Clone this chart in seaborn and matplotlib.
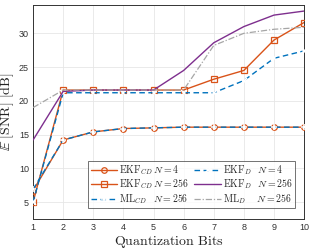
import numpy as np
import pandas as pd
import matplotlib
matplotlib.use("Agg")
import matplotlib.pyplot as plt
import seaborn as sns

bits = [1, 2, 3, 4, 5, 6, 7, 8, 9, 10]
ekf_cd_4 = [6.7, 14.2, 15.4, 15.9, 16.0, 16.1, 16.1, 16.1, 16.1, 16.1]
ekf_cd_256 = [5.0, 21.6, 21.6, 21.6, 21.6, 21.6, 23.2, 24.5, 29.0, 31.6]
ml_cd_256 = [6.9, 14.2, 15.4, 15.9, 16.0, 16.1, 16.1, 16.1, 16.1, 16.1]
ekf_d_4 = [5.0, 21.2, 21.2, 21.2, 21.2, 21.2, 21.2, 23.0, 26.3, 27.4]
ekf_d_256 = [14.2, 21.4, 21.6, 21.6, 21.6, 24.5, 28.6, 31.0, 32.7, 33.3]
ml_d_256 = [19.0, 21.6, 21.6, 21.6, 21.6, 21.6, 28.2, 30.0, 30.6, 30.9]

labels = [r'$\mathrm{EKF}_{CD}\;N=4$', r'$\mathrm{EKF}_{CD}\;N=256$',
          r'$\mathrm{ML}_{CD}\;\;\;N=256$', r'$\mathrm{EKF}_{D}\;\;\;N=4$',
          r'$\mathrm{EKF}_{D}\;\;\;N=256$', r'$\mathrm{ML}_{D}\;\;\;\;\;N=256$']

sns.set_theme(style="whitegrid")
plt.rcParams['font.family'] = ['Liberation Sans', 'DejaVu Sans']
plt.rcParams['mathtext.fontset'] = 'cm'

orange = '#D95319'
blue = '#0072BD'
purple = '#7E2F8E'
gray = '#A6A6A6'

fig = plt.figure(figsize=(3.09, 2.49), dpi=100)
ax = fig.add_axes([0.107, 0.1205, 0.877, 0.8595])

series = [
    (ekf_cd_4, labels[0], dict(color=orange, marker='o', ms=4, mfc='none', mec=orange, mew=0.9, lw=1.0, ls='-')),
    (ekf_cd_256, labels[1], dict(color=orange, marker='s', ms=4, mfc='none', mec=orange, mew=0.9, lw=1.0, ls='-')),
    (ml_cd_256, labels[2], dict(color=blue, marker='+', ms=5, mew=1.1, lw=1.0, ls=(0, (4, 2.5)))),
    (ekf_d_4, labels[3], dict(color=blue, marker='x', ms=4, mew=1.1, lw=1.0, ls=(0, (4, 2.5)))),
    (ekf_d_256, labels[4], dict(color=purple, lw=1.0, ls='-')),
    (ml_d_256, labels[5], dict(color=gray, lw=0.9, ls=(0, (5, 1.5, 1, 1.5)))),
]
order = [0, 1, 4, 5, 3, 2]
for i in order:
    vals, lab, kw = series[i]
    df = pd.DataFrame({'bits': bits, 'val': vals})
    sns.lineplot(data=df, x='bits', y='val', ax=ax, label=lab, zorder=3 + i, **kw)

ax.set_xlim(1, 10)
ax.set_ylim(2.5, 34.2)
ax.set_xticks(bits)
ax.set_yticks([5, 10, 15, 20, 25, 30])
ax.tick_params(axis='both', labelsize=6.5, colors='#333333', direction='in', length=2, pad=3)
ax.set_xlabel(r'$\mathrm{Quantization\ Bits}$', fontsize=10, labelpad=1, color='#222222')
ax.set_ylabel(r'$\mathbb{E}\ \mathrm{[SNR]\ [dB]}$', fontsize=10, labelpad=2, color='#222222')
ax.grid(True, color='#E6E6E6', lw=0.6)
for s in ax.spines.values():
    s.set_color('#333333')
    s.set_linewidth(0.7)
ax.set_facecolor('white')

h, l = ax.get_legend_handles_labels()
hm = dict(zip(l, h))
hs = [hm[lb] for lb in labels]
leg = ax.legend(hs, labels, ncol=2, loc='lower right', bbox_to_anchor=(0.975, 0.04),
                fontsize=7.1, frameon=True, fancybox=False, edgecolor='#333333',
                handlelength=2.7, handletextpad=0.2, columnspacing=0.5,
                labelspacing=0.1, borderpad=0.25, borderaxespad=0.2)
leg.get_frame().set_linewidth(0.6)

fig.savefig('out.png', dpi=100)
